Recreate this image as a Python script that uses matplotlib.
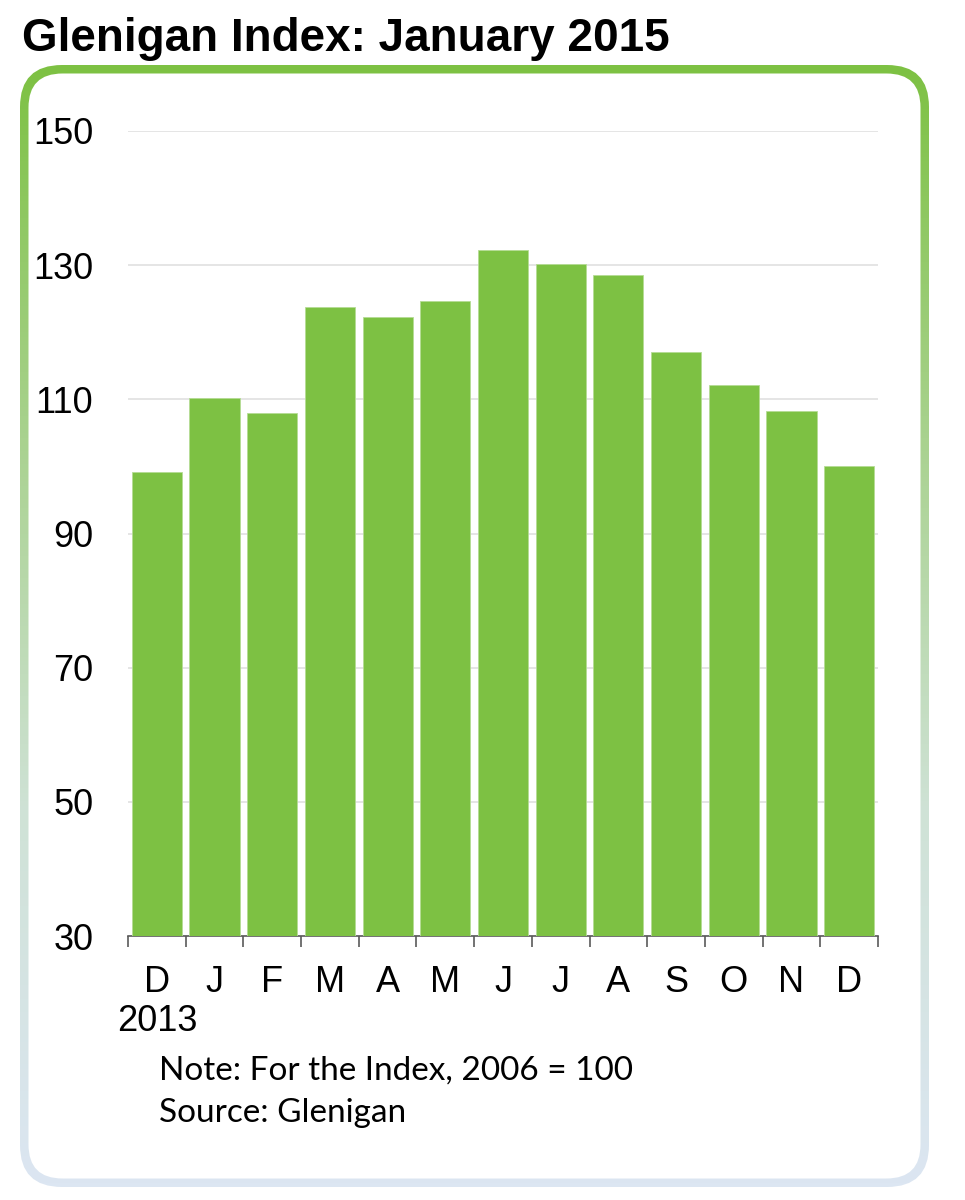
import numpy as np
import matplotlib
matplotlib.use('Agg')
import matplotlib.pyplot as plt
from matplotlib.patches import FancyBboxPatch
from matplotlib.colors import LinearSegmentedColormap

# Datos del indice
meses = ['D\n2013', 'J', 'F', 'M', 'A', 'M', 'J', 'J', 'A', 'S', 'O', 'N', 'D']
valores = [99.1, 110.2, 108.0, 123.8, 122.2, 124.6, 132.2, 130.1, 128.5, 117.1, 112.2, 108.2, 100.0]
ticks_y = [30, 50, 70, 90, 110, 130, 150]

titulo = 'Glenigan Index: January 2015'
nota = 'Note: For the Index, 2006 = 100'
fuente = 'Source: Glenigan'

verde = '#7dc143'
azul_claro = '#dce6f2'

W, H = 965, 1200
fig = plt.figure(figsize=(W / 100, H / 100), dpi=100)
fig.patch.set_facecolor('white')

# Marco redondeado con degradado (verde arriba, azul claro abajo)
bg = fig.add_axes([0, 0, 1, 1], zorder=0)
bg.set_xlim(0, W)
bg.set_ylim(H, 0)
bg.axis('off')

cmap = LinearSegmentedColormap.from_list('marco', [verde, '#a9d28f', '#cfe2d6', azul_claro])
grad = np.linspace(0, 1, 256).reshape(-1, 1)
img = bg.imshow(grad, cmap=cmap, extent=[20, 929, 1187, 65], aspect='auto')
exterior = FancyBboxPatch((20, 65), 909, 1122, boxstyle='round,pad=0,rounding_size=42',
                          transform=bg.transData, facecolor='none', edgecolor='none')
bg.add_patch(exterior)
img.set_clip_path(exterior)
interior = FancyBboxPatch((28.5, 73.5), 892, 1105, boxstyle='round,pad=0,rounding_size=34',
                          facecolor='white', edgecolor='none', zorder=2)
bg.add_patch(interior)

# Grafico de barras
ax = fig.add_axes([128 / W, 1 - 936 / H, (878 - 128) / W, (936 - 131) / H], zorder=1)
ax.patch.set_alpha(0)
x = np.arange(len(valores))
ax.bar(x, valores, width=0.87, color=verde, edgecolor='#b5dc95', linewidth=0.6, zorder=3)

ax.set_xlim(-0.5, len(valores) - 0.5)
ax.set_ylim(30, 150)
ax.set_yticks(ticks_y)
ax.set_yticklabels([str(t) for t in ticks_y])
ax.grid(axis='y', color='#e0e0e0', linewidth=1.2, zorder=0)
ax.set_axisbelow(True)

for lado in ['top', 'right', 'left']:
    ax.spines[lado].set_visible(False)
ax.spines['bottom'].set_color('#5a5a5a')
ax.spines['bottom'].set_linewidth(1.2)

ax.set_xticks(x)
ax.set_xticklabels(meses, linespacing=1.15)
ax.set_xticks(np.arange(len(valores) + 1) - 0.5, minor=True)
ax.tick_params(axis='x', which='major', length=0, pad=21)
ax.tick_params(axis='x', which='minor', length=8, width=1.2, color='#5a5a5a')
ax.tick_params(axis='y', length=0, pad=25)

for lbl in ax.get_xticklabels() + ax.get_yticklabels():
    lbl.set_fontfamily('Liberation Sans')
    lbl.set_fontsize(26)
    lbl.set_color('black')

# Textos
fig.text(22 / W, 1 - 51 / H, titulo, fontfamily='Liberation Sans', fontweight='bold',
         fontsize=33, va='baseline', ha='left')
fig.text(159 / W, 1 - 1080 / H, nota, fontfamily='Lato', fontsize=24, va='baseline', ha='left')
fig.text(159 / W, 1 - 1122 / H, fuente, fontfamily='Lato', fontsize=24, va='baseline', ha='left')

fig.savefig('out.png', dpi=100)
